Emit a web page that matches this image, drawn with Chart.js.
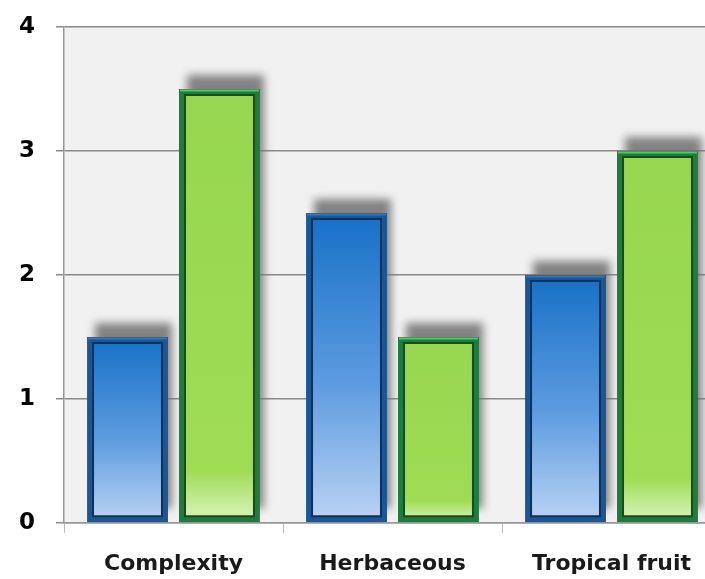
<!DOCTYPE html>
<html>
<head>
<meta charset="utf-8">
<script src="https://cdn.jsdelivr.net/npm/chart.js@4/dist/chart.umd.min.js"></script>
<style>
html,body{margin:0;padding:0;background:#fff;overflow:hidden;}
#wrap{width:721px;height:579px;position:relative;}
</style>
</head>
<body>
<div id="wrap"><canvas id="c"></canvas></div>
<script>
const categories = ["Complexity", "Herbaceous", "Tropical fruit"];
const seriesA = [1.5, 2.5, 2.0];
const seriesB = [3.5, 1.5, 3.0];
const yTicks = [0, 1, 2, 3, 4];

function barGradient(ctx, top, bottom, stops) {
  const g = ctx.createLinearGradient(0, top, 0, bottom);
  stops.forEach(s => g.addColorStop(s[0], s[1]));
  return g;
}

function makeFill(stops) {
  return function(context) {
    const chart = context.chart;
    const y = chart.scales.y;
    if (!y || !chart.chartArea) return stops[0][1];
    const v = context.raw;
    const top = y.getPixelForValue(v);
    const bottom = y.getPixelForValue(0);
    return barGradient(chart.ctx, top, bottom, stops);
  };
}

const bgPlugin = {
  id: 'plotBg',
  beforeDraw(chart) {
    const {ctx, chartArea: a} = chart;
    ctx.save();
    ctx.fillStyle = '#f1f1f1';
    ctx.fillRect(a.left, a.top, a.right - a.left, a.bottom - a.top);
    ctx.restore();
  }
};

const shadowPlugin = {
  id: 'barShadow',
  beforeDatasetsDraw(chart) {
    const ctx = chart.ctx;
    ctx.save();
    ctx.filter = 'blur(4px)';
    ctx.fillStyle = 'rgba(110,110,110,0.85)';
    chart.data.datasets.forEach((ds, i) => {
      chart.getDatasetMeta(i).data.forEach(bar => {
        const w = bar.width;
        const l = bar.x - w / 2;
        ctx.fillRect(l + 8, bar.y - 14, w - 4, bar.base - bar.y);
      });
    });
    ctx.restore();
  },
  afterDatasetsDraw(chart) {
    const ctx = chart.ctx;
    ctx.save();
    chart.data.datasets.forEach((ds, i) => {
      const inner = ds.innerLine, outer = ds.topLine;
      chart.getDatasetMeta(i).data.forEach(bar => {
        const w = bar.width;
        const l = bar.x - w / 2;
        const h = bar.base - bar.y;
        ctx.lineWidth = 2;
        ctx.strokeStyle = inner;
        ctx.strokeRect(l + 6, bar.y + 6, w - 12, h - 12);
        ctx.strokeStyle = outer;
        ctx.beginPath();
        ctx.moveTo(l + 1, bar.y + 1.5);
        ctx.lineTo(l + w - 1, bar.y + 1.5);
        ctx.stroke();
      });
    });
    ctx.restore();
  }
};

new Chart(document.getElementById('c'), {
  type: 'bar',
  data: {
    labels: categories,
    datasets: [
      {
        label: 'A',
        data: seriesA,
        backgroundColor: makeFill([[0, '#1670c6'], [0.55, '#5d9be0'], [1, '#bcd4f4']]),
        borderColor: '#1a5797',
        borderWidth: 6,
        borderSkipped: false,
        innerLine: '#0f3159',
        topLine: '#2a78c8',
        categoryPercentage: 0.84,
        barPercentage: 0.88
      },
      {
        label: 'B',
        data: seriesB,
        backgroundColor: makeFill([[0, '#97d650'], [0.88, '#9fdc54'], [0.97, '#cdf0a8'], [1, '#d8f5b8']]),
        borderColor: '#1d7d3c',
        borderWidth: 6,
        borderSkipped: false,
        innerLine: '#1a4a22',
        topLine: '#46d060',
        categoryPercentage: 0.84,
        barPercentage: 0.88
      }
    ]
  },
  options: {
    responsive: true,
    maintainAspectRatio: false,
    animation: false,
    layout: { padding: { top: 27, left: 0, right: 0, bottom: 0 } },
    plugins: { legend: { display: false }, tooltip: { enabled: false } },
    scales: {
      y: {
        min: 0, max: 4,
        afterFit(scale) { scale.width = 64; },
        afterBuildTicks(scale) { scale.ticks = yTicks.map(v => ({ value: v })); },
        ticks: {
          color: '#000',
          font: { family: 'DejaVu Sans', weight: 'bold', size: 23, lineHeight: 0.4 },
          padding: 21
        },
        grid: { color: '#8a8a8a', lineWidth: 1.5, tickLength: 8, drawTicks: true },
        border: { display: true, color: '#999', width: 1.5 }
      },
      x: {
        afterFit(scale) { scale.height = 56; },
        ticks: {
          color: '#1a1a1a',
          font: { family: 'DejaVu Sans', weight: 'bold', size: 22 },
          padding: 18
        },
        grid: { offset: true, drawOnChartArea: false, drawTicks: true, tickLength: 10, color: '#bbb' },
        border: { display: true, color: '#999', width: 1.5 }
      }
    }
  },
  plugins: [bgPlugin, shadowPlugin]
});
</script>
</body>
</html>
